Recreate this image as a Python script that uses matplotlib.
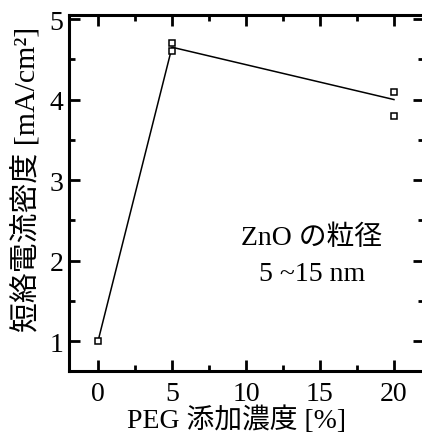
import matplotlib.pyplot as plt
from matplotlib.ticker import MultipleLocator

# データ
peg_conc = [0, 5, 5, 20, 20]            # PEG添加濃度 [%]
jsc_points = [1.0, 4.7, 4.6, 4.1, 3.8]  # 測定値 [mA/cm2]
line_x = [0, 5, 20]
line_y = [1.0, 4.65, 4.0]               # 平均線
x_ticks = [0, 5, 10, 15, 20]
y_ticks = [1, 2, 3, 4, 5]

plt.rcParams['font.family'] = ['Liberation Serif', 'Noto Sans CJK JP']

fig = plt.figure(figsize=(4.22, 4.35), dpi=100)
# 右の枠線は画像の外側
ax = fig.add_axes([69 / 422, 1 - 372 / 435, (424 - 69) / 422, (372 - 16) / 435])

ax.plot(line_x, line_y, color='black', lw=1.1, zorder=2)
ax.plot(peg_conc, jsc_points, ls='none', marker='s', ms=5, mfc='white',
        mec='black', mew=1.1, zorder=3)

ax.set_xlim(-1.96, 22.03)
ax.set_ylim(0.63, 5.05)
ax.set_xticks(x_ticks)
ax.set_yticks(y_ticks)
ax.xaxis.set_minor_locator(MultipleLocator(2.5))
ax.yaxis.set_minor_locator(MultipleLocator(0.5))
ax.tick_params(which='both', direction='in', top=True, right=True,
               width=2, labelsize=20)
ax.tick_params(axis='x', pad=7)
ax.tick_params(axis='y', pad=4)
ax.tick_params(which='major', length=8)
ax.tick_params(which='minor', length=4)
for s in ax.spines.values():
    s.set_linewidth(2.2)

ax.set_xlabel('PEG 添加濃度 [%]', fontsize=20)
ax.set_ylabel('短絡電流密度 [mA/cm²]', fontsize=21.5)
ax.xaxis.set_label_coords(0.473, -0.097)
ax.yaxis.set_label_coords(-0.078, 0.54)

ax.text(14.45, 2.29, 'ZnO の粒径', fontsize=20, ha='center', va='center')
ax.text(14.45, 1.84, '5 ~15 nm', fontsize=20, ha='center', va='center')

fig.savefig('out.png', dpi=100)
